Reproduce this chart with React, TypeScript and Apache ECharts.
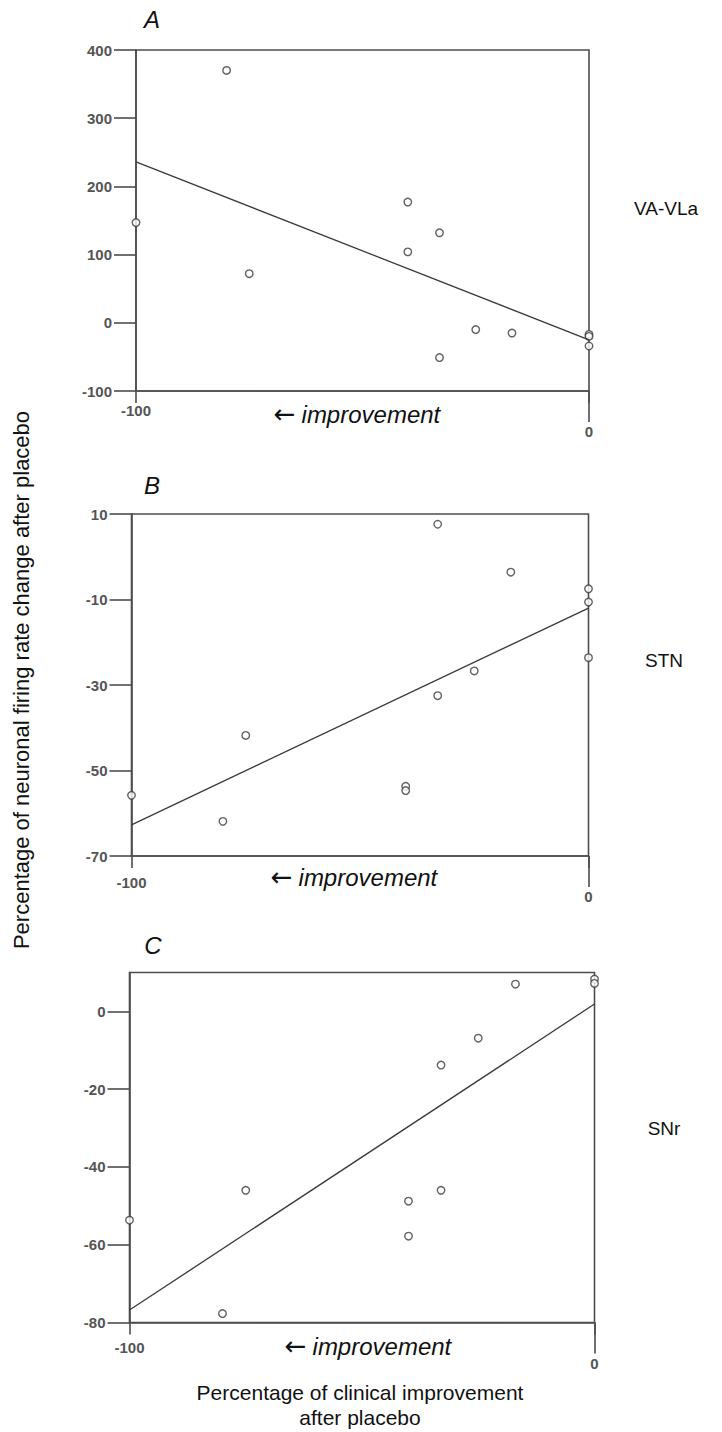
import React, { useEffect, useRef } from "react";
import * as echarts from "echarts";

// ---- data ----
const xTicks = [-100, 0];
const fitX = [-100, 0];

const vaX = [-80, -100, -75, -40, -40, -33, -33, -25, -17, 0, 0, 0];
const vaY = [370, 147, 72, 177, 104, 132, -51, -10, -15, -17, -20, -34];
const vaFit = [236, -25];
const vaTicks = [-100, 0, 100, 200, 300, 400];

const stnX = [-33, -17, 0, 0, 0, -25, -33, -75, -40, -40, -100, -80];
const stnY = [7.6, -3.6, -7.5, -10.6, -23.6, -26.7, -32.5, -41.8, -53.7, -54.7, -55.8, -61.9];
const stnFit = [-62.7, -12];
const stnTicks = [-70, -50, -30, -10, 10];

const snrX = [-17, 0, 0, -25, -33, -75, -33, -40, -40, -100, -80];
const snrY = [7, 8.3, 7.2, -6.9, -13.8, -46, -46, -48.8, -57.8, -53.7, -77.7];
const snrFit = [-76.8, 1.9];
const snrTicks = [-80, -60, -40, -20, 0];

const panelLetters = ["A", "B", "C"];
const regionNames = ["VA-VLa", "STN", "SNr"];

const FONT = "'Liberation Sans', Arial, sans-serif";
const AXIS = "#4d4d4d";
const MARK = "#3a3a3a";

export default function App() {
  const ref = useRef<HTMLDivElement>(null);

  useEffect(() => {
    document.body.style.margin = "0";
    const chart = echarts.init(ref.current!, null, { renderer: "svg" });

    const grids = [
      { left: 136, top: 50, width: 453, height: 341 },
      { left: 131.5, top: 514, width: 457, height: 342 },
      { left: 129.5, top: 972.5, width: 465, height: 350 },
    ];
    const yRanges = [
      [-100, 400],
      [-70, 10],
      [-80, 10],
    ];
    const yTickSets = [vaTicks, stnTicks, snrTicks];
    const xLabelMargins = [12, 19, 17];

    const labelRich = { fontFamily: FONT, fontSize: 15, fontWeight: "bold", color: "#555" };

    const xAxes: any[] = [];
    const yAxes: any[] = [];
    grids.forEach((g, i) => {
      const m = xLabelMargins[i];
      xAxes.push({
        gridIndex: i,
        type: "value",
        min: -100,
        max: 0,
        splitLine: { show: false },
        axisLine: { show: true, onZero: false, lineStyle: { color: AXIS, width: 1.6 } },
        axisTick: { show: true, length: 12, customValues: xTicks, lineStyle: { color: AXIS, width: 1.6 } },
        axisLabel: {
          show: true,
          customValues: xTicks,
          margin: m,
          formatter: (v: number) => (v === 0 ? "{z|0}" : "{n|" + v + "}"),
          rich: {
            n: { ...labelRich },
            z: { ...labelRich, padding: [41 - m - 8, 0, 0, 0] },
          },
        },
      });
      xAxes.push({
        gridIndex: i,
        type: "value",
        min: -100,
        max: 0,
        position: "bottom",
        splitLine: { show: false },
        axisLine: { show: false, onZero: false },
        axisTick: { show: true, length: 31, customValues: [0], lineStyle: { color: AXIS, width: 1.6 } },
        axisLabel: { show: false },
      });
      yAxes.push({
        gridIndex: i,
        type: "value",
        min: yRanges[i][0],
        max: yRanges[i][1],
        splitLine: { show: false },
        axisLine: { show: true, onZero: false, lineStyle: { color: AXIS, width: 1.6 } },
        axisTick: { show: true, length: 22, customValues: yTickSets[i], lineStyle: { color: AXIS, width: 1.6 } },
        axisLabel: {
          show: true,
          customValues: yTickSets[i],
          margin: 24,
          fontFamily: FONT,
          fontSize: 15,
          fontWeight: "bold",
          color: "#555",
          formatter: (v: number) => String(v),
        },
      });
    });

    const xs = [vaX, stnX, snrX];
    const ys = [vaY, stnY, snrY];
    const fits = [vaFit, stnFit, snrFit];
    const series: any[] = [];
    for (let i = 0; i < 3; i++) {
      series.push({
        type: "line",
        xAxisIndex: i * 2,
        yAxisIndex: i,
        data: fitX.map((x, k) => [x, fits[i][k]]),
        symbol: "none",
        lineStyle: { color: MARK, width: 1.3 },
        silent: true,
      });
      series.push({
        type: "scatter",
        xAxisIndex: i * 2,
        yAxisIndex: i,
        clip: false,
        data: xs[i].map((x, k) => [x, ys[i][k]]),
        symbol: "circle",
        symbolSize: 7.5,
        itemStyle: { color: "#ffffff", borderColor: MARK, borderWidth: 1.4 },
      });
    }

    const letterPos = [
      [152, 19],
      [152, 485],
      [153, 945],
    ];
    const improvePos = [
      [357, 414],
      [354, 877],
      [368, 1346],
    ];
    const regionPos = [
      [666, 208],
      [664, 660],
      [664, 1128],
    ];

    const graphics: any[] = [];
    for (let i = 0; i < 3; i++) {
      graphics.push({
        type: "text",
        x: letterPos[i][0],
        y: letterPos[i][1],
        style: {
          text: panelLetters[i],
          font: `italic 24px ${FONT}`,
          fill: "#111",
          align: "center",
          verticalAlign: "middle",
        },
      });
      graphics.push({
        type: "text",
        x: improvePos[i][0],
        y: improvePos[i][1],
        style: {
          text: "{a|\u2190}{s| }{b|improvement}",
          align: "center",
          verticalAlign: "middle",
          rich: {
            a: { fontFamily: "'DejaVu Sans', sans-serif", fontSize: 26, fill: "#111", color: "#111" },
            s: { fontFamily: FONT, fontSize: 24, width: 6 },
            b: { fontFamily: FONT, fontStyle: "italic", fontSize: 24, fill: "#111", color: "#111" },
          },
        },
      });
      graphics.push({
        type: "text",
        x: regionPos[i][0],
        y: regionPos[i][1],
        style: {
          text: regionNames[i],
          font: `19px ${FONT}`,
          fill: "#111",
          align: "center",
          verticalAlign: "middle",
        },
      });
    }
    graphics.push({
      type: "text",
      x: 21,
      y: 680,
      rotation: Math.PI / 2,
      style: {
        text: "Percentage of neuronal firing rate change after placebo",
        font: `22px ${FONT}`,
        fill: "#111",
        align: "center",
        verticalAlign: "middle",
      },
    });
    graphics.push({
      type: "text",
      x: 360,
      y: 1392,
      style: {
        text: "Percentage of clinical improvement",
        font: `21px ${FONT}`,
        fill: "#111",
        align: "center",
        verticalAlign: "middle",
      },
    });
    graphics.push({
      type: "text",
      x: 360,
      y: 1417,
      style: {
        text: "after placebo",
        font: `21px ${FONT}`,
        fill: "#111",
        align: "center",
        verticalAlign: "middle",
      },
    });

    chart.setOption({
      animation: false,
      backgroundColor: "#ffffff",
      grid: grids.map((g) => ({
        ...g,
        show: true,
        borderColor: AXIS,
        borderWidth: 1.6,
        backgroundColor: "transparent",
        containLabel: false,
      })),
      xAxis: xAxes,
      yAxis: yAxes,
      series,
      graphic: graphics,
    });

    return () => chart.dispose();
  }, []);

  return <div ref={ref} style={{ width: 722, height: 1432 }} />;
}
